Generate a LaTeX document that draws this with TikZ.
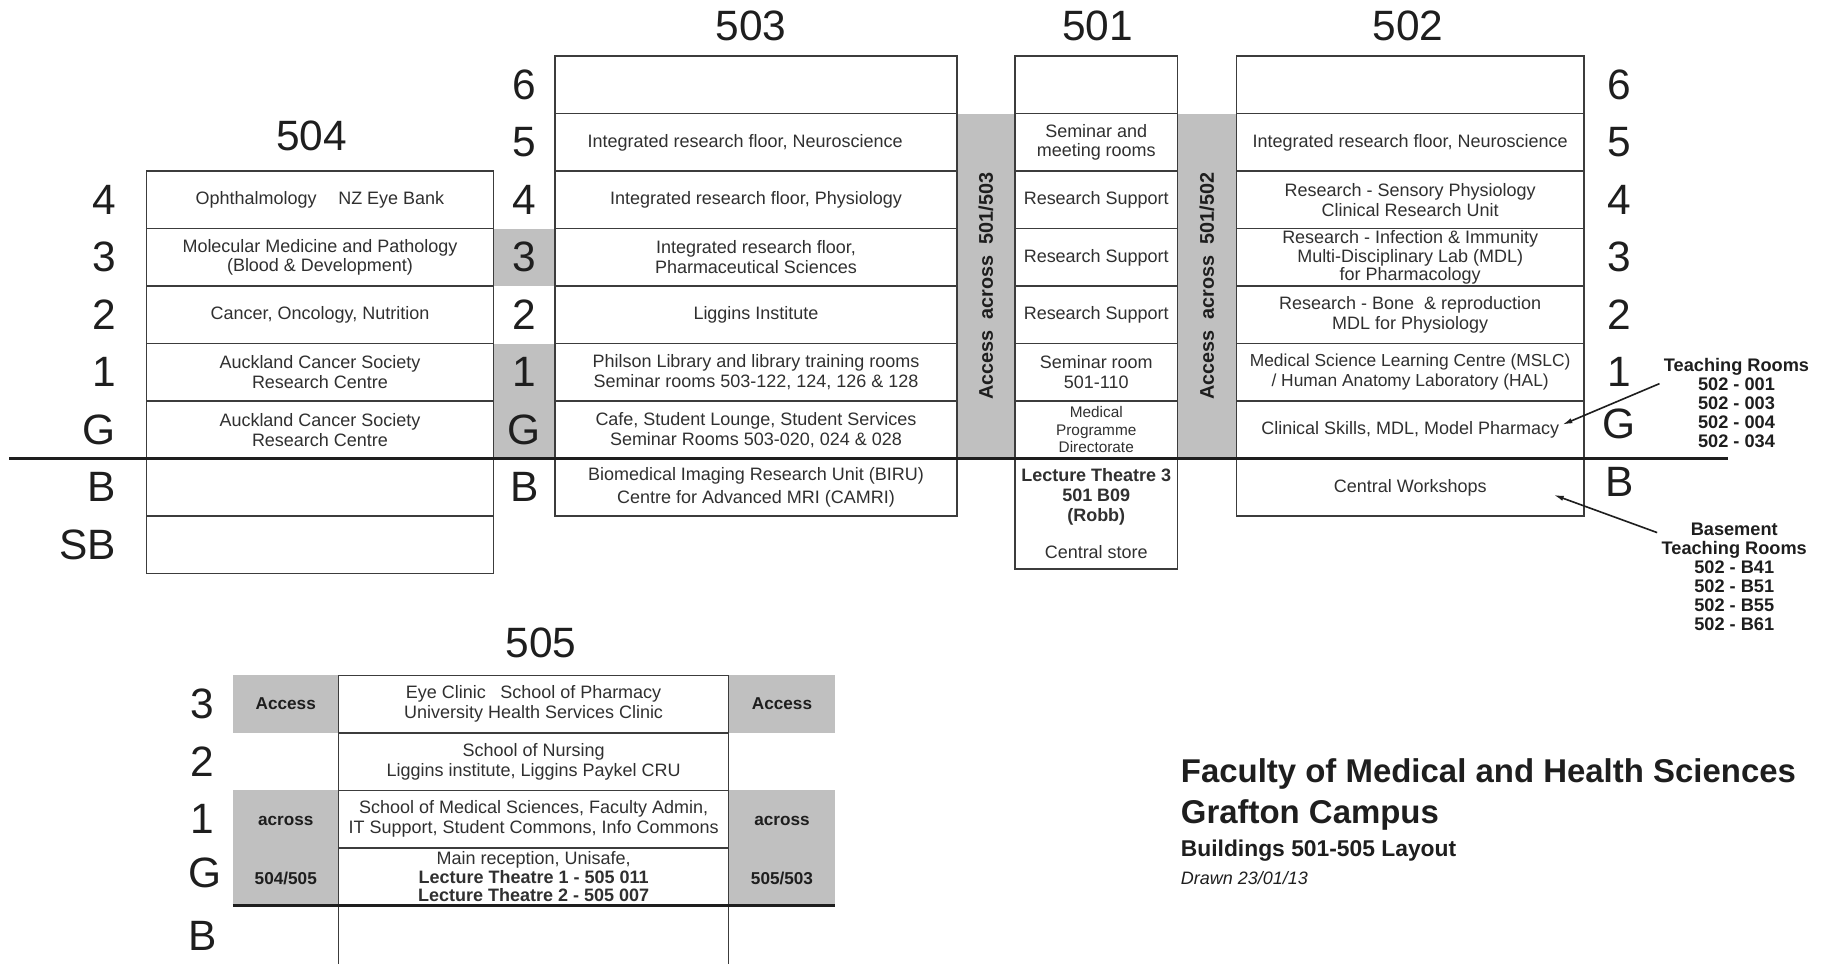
\documentclass[tikz,border=0pt]{standalone}
\usepackage{fontspec}
\setmainfont{Liberation Sans}
\usetikzlibrary{arrows.meta}
\definecolor{INK}{HTML}{1E1E1E}
\definecolor{LINE}{HTML}{3C3C3C}
\definecolor{GREY}{HTML}{C0C0C0}
\definecolor{TEXT}{HTML}{303030}
\newcommand*{\Fs}[2]{\fontsize{#1}{#2}\selectfont}
\tikzset{
  room/.style={draw=LINE, line width=0.7pt, fill=white, minimum height=1cm, inner sep=0pt, align=center, text=TEXT, font=\Fs{8.9}{9.8}},
  w504/.style={minimum width=6.03cm},
  w503/.style={minimum width=6.985cm},
  w501/.style={minimum width=2.83cm},
  w502/.style={minimum width=6.05cm},
  w505/.style={minimum width=6.78cm},
  floornum/.style={text=INK, font=\Fs{21}{21}, inner sep=0pt},
  bldg/.style={text=INK, font=\Fs{21}{21}, inner sep=0pt},
  greyband/.style={fill=GREY, inner sep=0pt},
  bandtext/.style={text=INK, font=\bfseries\Fs{8.5}{9.5}, inner sep=0pt},
  groundline/.style={draw=INK, line width=1.7pt},
  note/.style={text=INK, font=\bfseries\Fs{9}{9.4}, align=center, inner sep=2pt},
  pointer/.style={draw=INK, line width=0.8pt, -{Latex[length=5pt,width=2.6pt]}},
  caption/.style={text=INK, anchor=west, inner sep=0pt}
}

\begin{document}
\begin{tikzpicture}
    \useasboundingbox (0,7.976) rectangle (31.739,-8.772);
    % Grey access bands
    \node[greyband, minimum width=1.075cm, minimum height=1cm] (g503a) at (9.1175,3.5) {};
    \node[greyband, minimum width=1.075cm, minimum height=2cm] (g503b) at (9.1175,1) {};
    \node[greyband, rotate=90, minimum width=6cm, minimum height=1.01cm, bandtext, font=\bfseries\Fs{9.8}{9.8}] (acc503) at (17.145,3) {Access\ \ across\ \ 501/503};
    \node[greyband, rotate=90, minimum width=6cm, minimum height=1.02cm, bandtext, font=\bfseries\Fs{9.8}{9.8}] (acc502) at (20.99,3) {Access\ \ across\ \ 501/502};
    % 504
    \node[bldg] (t504) at (5.42,5.61) {504};
    \node[room, w504] (b504f4) at (5.565,4.5) {Ophthalmology\hspace{1.2em}NZ Eye Bank};
    \node[room, w504] (b504f3) at (5.565,3.5) {Molecular Medicine and Pathology\\(Blood \& Development)};
    \node[room, w504] (b504f2) at (5.565,2.5) {Cancer, Oncology, Nutrition};
    \node[room, w504] (b504f1) at (5.565,1.5) {Auckland Cancer Society\\Research Centre};
    \node[room, w504] (b504fG) at (5.565,0.5) {Auckland Cancer Society\\Research Centre};
    \node[room, w504] (b504fB) at (5.565,-0.5) {};
    \node[room, w504] (b504fSB) at (5.565,-1.5) {};
    % 503
    \node[bldg] (t503) at (13.06,7.53) {503};
    \node[room, w503] (b503f6) at (13.1475,6.5) {};
    \node[room, w503] (b503f5) at (13.1475,5.5) {Integrated research floor, Neuroscience\hspace{1.2em}};
    \node[room, w503] (b503f4) at (13.1475,4.5) {Integrated research floor, Physiology};
    \node[room, w503] (b503f3) at (13.1475,3.5) {Integrated research floor,\\Pharmaceutical Sciences};
    \node[room, w503] (b503f2) at (13.1475,2.5) {Liggins Institute};
    \node[room, w503] (b503f1) at (13.1475,1.5) {Philson Library and library training rooms\\Seminar rooms 503-122, 124, 126 \& 128};
    \node[room, w503] (b503fG) at (13.1475,0.5) {Cafe, Student Lounge, Student Services\\Seminar Rooms 503-020, 024 \& 028};
    \node[room, w503] (b503fB) at (13.1475,-0.5) {Biomedical Imaging Research Unit (BIRU)\\[2pt]Centre for Advanced MRI (CAMRI)};
    % 501
    \node[bldg] (t501) at (19.09,7.53) {501};
    \node[room, w501] (b501f6) at (19.065,6.5) {};
    \node[room, w501] (b501f5) at (19.065,5.5) {Seminar and\\meeting rooms};
    \node[room, w501] (b501f4) at (19.065,4.5) {Research Support};
    \node[room, w501] (b501f3) at (19.065,3.5) {Research Support};
    \node[room, w501] (b501f2) at (19.065,2.5) {Research Support};
    \node[room, w501] (b501f1) at (19.065,1.5) {Seminar room\\501-110};
    \node[room, w501, font=\Fs{7.6}{8.6}] (b501fG) at (19.065,0.5) {Medical\\Programme\\Directorate};
    \node[room, w501, minimum height=1.92cm] (b501fB) at (19.065,-0.96) {\textbf{Lecture Theatre 3}\\\textbf{501 B09}\\\textbf{(Robb)}\\[8.7pt]Central store};
    % 502
    \node[bldg] (t502) at (24.49,7.53) {502};
    \node[room, w502] (b502f6) at (24.525,6.5) {};
    \node[room, w502] (b502f5) at (24.525,5.5) {Integrated research floor, Neuroscience};
    \node[room, w502] (b502f4) at (24.525,4.5) {Research - Sensory Physiology\\Clinical Research Unit};
    \node[room, w502, font=\Fs{8.9}{9.2}] (b502f3) at (24.525,3.5) {Research - Infection \& Immunity\\Multi-Disciplinary Lab (MDL)\\for Pharmacology};
    \node[room, w502] (b502f2) at (24.525,2.5) {Research - Bone\ \ \& reproduction\\MDL for Physiology};
    \node[room, w502, font=\Fs{8.6}{9.8}] (b502f1) at (24.525,1.5) {Medical Science Learning Centre (MSLC)\\/ Human Anatomy Laboratory (HAL)};
    \node[room, w502] (b502fG) at (24.525,0.5) {Clinical Skills, MDL, Model Pharmacy};
    \node[room, w502] (b502fB) at (24.525,-0.5) {Central Workshops};
    % Ground level
    \draw[groundline] (0.16,0) -- (30.06,0);
    % Floor numbers
    \node[floornum, anchor=east] (n504f4) at (2.02,4.5) {4};
    \node[floornum, anchor=east] (n504f3) at (2.02,3.5) {3};
    \node[floornum, anchor=east] (n504f2) at (2.02,2.5) {2};
    \node[floornum, anchor=east] (n504f1) at (2.02,1.5) {1};
    \node[floornum, anchor=east] (n504fG) at (2.02,0.5) {G};
    \node[floornum, anchor=east] (n504fB) at (2.02,-0.5) {B};
    \node[floornum, anchor=east] (n504fSB) at (2.02,-1.5) {SB};
    \node[floornum] (n503f6) at (9.1175,6.5) {6};
    \node[floornum] (n503f5) at (9.1175,5.5) {5};
    \node[floornum] (n503f4) at (9.1175,4.5) {4};
    \node[floornum] (n503f3) at (9.1175,3.5) {3};
    \node[floornum] (n503f2) at (9.1175,2.5) {2};
    \node[floornum] (n503f1) at (9.1175,1.5) {1};
    \node[floornum] (n503fG) at (9.1175,0.5) {G};
    \node[floornum] (n503fB) at (9.1175,-0.5) {B};
    \node[floornum] (n502f6) at (28.16,6.5) {6};
    \node[floornum] (n502f5) at (28.16,5.5) {5};
    \node[floornum] (n502f4) at (28.16,4.5) {4};
    \node[floornum] (n502f3) at (28.16,3.5) {3};
    \node[floornum] (n502f2) at (28.16,2.5) {2};
    \node[floornum] (n502f1) at (28.16,1.5) {1};
    \node[floornum] (n502fG) at (28.16,0.6) {G};
    \node[floornum] (n502fB) at (28.16,-0.4) {B};
    % Teaching rooms
    \node[note] (teach) at (30.2,0.97) {Teaching Rooms\\502 - 001\\502 - 003\\502 - 004\\502 - 034};
    \node[note] (basement) at (30.16,-2.06) {Basement\\Teaching Rooms\\502 - B41\\502 - B51\\502 - B55\\502 - B61};
    \coordinate (pharmacy) at (27.17,0.59);
    \coordinate (workshops) at (27.02,-0.63);
    \draw[pointer] (teach.166) -- (pharmacy);
    \draw[pointer] (basement.150) -- (workshops);
    % 505
    \node[bldg] (t505) at (9.41,-3.2) {505};
    \node[greyband, minimum width=1.84cm, minimum height=1cm, bandtext] (g505a) at (4.97,-4.27) {Access};
    \node[greyband, minimum width=1.84cm, minimum height=2cm] (g505b) at (4.97,-6.77) {};
    \node[greyband, minimum width=1.86cm, minimum height=1cm, bandtext] (g505c) at (13.6,-4.27) {Access};
    \node[greyband, minimum width=1.86cm, minimum height=2cm] (g505d) at (13.6,-6.77) {};
    \node[bandtext] (x505a) at (4.97,-6.3) {across};
    \node[bandtext] (x505b) at (4.97,-7.3) {504/505};
    \node[bandtext] (x505c) at (13.6,-6.3) {across};
    \node[bandtext] (x505d) at (13.6,-7.3) {505/503};
    \node[room, w505] (b505f3) at (9.28,-4.27) {Eye Clinic\hspace{0.8em}School of Pharmacy\\University Health Services Clinic};
    \node[room, w505] (b505f2) at (9.28,-5.27) {School of Nursing\\Liggins institute, Liggins Paykel CRU};
    \node[room, w505] (b505f1) at (9.28,-6.27) {School of Medical Sciences, Faculty Admin,\\IT Support, Student Commons, Info Commons};
    \node[room, w505, font=\Fs{8.9}{9.1}] (b505fG) at (9.28,-7.27) {Main reception, Unisafe,\\\textbf{Lecture Theatre 1 - 505 011}\\\textbf{Lecture Theatre 2 - 505 007}};
    \node[room, w505, minimum height=1.1cm] (b505fB) at (9.28,-8.32) {};
    \draw[groundline] (4.05,-7.77) -- (14.53,-7.77);
    \node[floornum] (n505f3) at (3.52,-4.27) {3};
    \node[floornum] (n505f2) at (3.52,-5.27) {2};
    \node[floornum] (n505f1) at (3.52,-6.27) {1};
    \node[floornum] (n505fG) at (3.56,-7.2) {G};
    \node[floornum] (n505fB) at (3.52,-8.3) {B};
    % Title
    \node[caption, font=\bfseries\Fs{16.3}{16.3}] (faculty) at (20.53,-5.485) {Faculty of Medical and Health Sciences};
    \node[caption, font=\bfseries\Fs{16.3}{16.3}] (campus) at (20.53,-6.19) {Grafton Campus};
    \node[caption, font=\bfseries\Fs{11.3}{11.3}] (layout) at (20.53,-6.82) {Buildings 501-505 Layout};
    \node[caption, font=\itshape\Fs{8.9}{8.9}] (drawn) at (20.53,-7.29) {Drawn 23/01/13};
\end{tikzpicture}
\end{document}
